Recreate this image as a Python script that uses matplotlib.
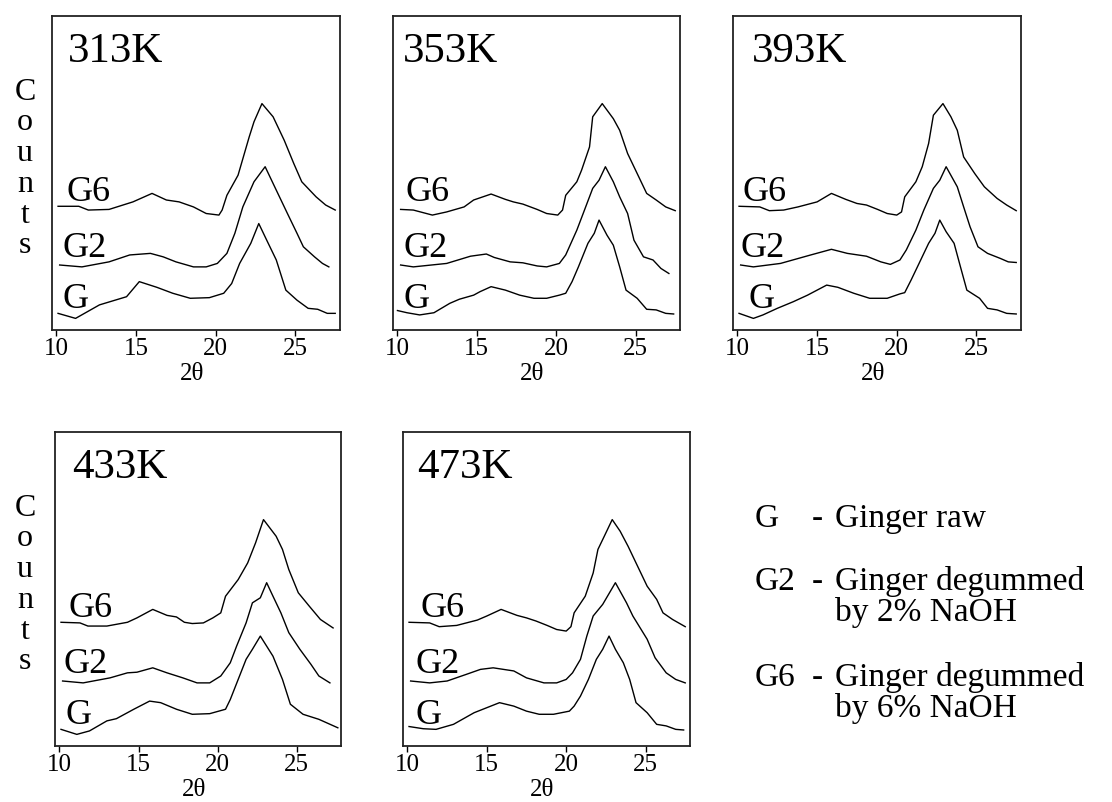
import matplotlib
matplotlib.use("Agg")
import matplotlib.pyplot as plt

# === FONTS ===
plt.rcParams['font.family'] = ['Liberation Serif', 'DejaVu Serif']

# === DATA (2theta, counts in arbitrary stacked units) ===
temps = ["313K", "353K", "393K", "433K", "473K"]
samples = ["G", "G2", "G6"]

# 313K
tth_313_g = [10.1, 11.2, 12.7, 14.4, 15.2, 16.3, 17.3, 18.4, 19.6, 20.5, 21.0, 21.5, 22.2, 22.7, 23.2, 23.8, 24.4, 25.1, 25.8, 26.4, 27.0, 27.5]
cnt_313_g = [5.3, 3.7, 8.0, 10.6, 15.4, 13.6, 11.7, 10.1, 10.3, 11.7, 14.8, 21.2, 27.6, 33.9, 28.6, 22.3, 12.7, 9.5, 6.9, 6.6, 5.3, 5.3]
tth_313_g2 = [10.2, 11.6, 13.3, 14.6, 15.9, 16.7, 17.5, 18.6, 19.4, 20.1, 20.7, 21.2, 21.7, 22.4, 23.1, 23.7, 24.5, 25.1, 25.5, 26.2, 26.7, 27.1]
cnt_313_g2 = [20.7, 20.1, 21.7, 23.9, 24.4, 23.3, 21.7, 20.1, 20.1, 21.2, 24.4, 30.8, 39.2, 47.2, 52.0, 45.6, 37.1, 30.8, 26.5, 23.3, 21.2, 20.1]
tth_313_g6 = [10.1, 11.4, 12.0, 13.3, 14.8, 16.0, 16.9, 17.7, 18.6, 19.4, 20.2, 20.4, 20.7, 21.4, 22.1, 22.4, 22.9, 23.6, 24.3, 24.9, 25.4, 26.3, 26.9, 27.5]
cnt_313_g6 = [39.4, 39.4, 38.2, 38.4, 40.8, 43.5, 41.4, 40.8, 39.2, 37.1, 36.6, 38.2, 42.9, 49.3, 61.5, 66.3, 72.1, 67.9, 60.4, 53.0, 47.2, 42.4, 39.8, 38.2]

# 353K
tth_353_g = [10.0, 10.6, 11.4, 12.3, 13.3, 13.9, 14.8, 15.2, 15.9, 16.8, 17.7, 18.6, 19.4, 20.2, 20.6, 21.0, 21.4, 22.0, 22.4, 22.7, 23.2, 23.6, 24.0, 24.4, 25.1, 25.7, 26.3, 26.9, 27.4]
cnt_353_g = [6.2, 5.5, 4.8, 5.5, 8.5, 9.8, 11.1, 12.2, 13.8, 12.7, 11.1, 10.1, 10.1, 11.1, 11.7, 15.4, 20.1, 27.6, 30.8, 35.0, 30.2, 27.0, 20.1, 12.7, 10.1, 6.6, 6.4, 5.3, 5.1]
tth_353_g2 = [10.2, 11.0, 13.1, 14.6, 15.6, 16.1, 17.1, 17.9, 18.8, 19.4, 20.2, 20.6, 21.3, 21.7, 22.3, 22.7, 23.1, 23.6, 24.0, 24.5, 24.9, 25.5, 26.1, 26.6, 27.1]
cnt_353_g2 = [20.7, 20.1, 21.2, 23.5, 24.2, 23.1, 21.7, 21.4, 20.4, 20.1, 21.2, 23.9, 31.8, 37.1, 45.1, 47.7, 52.0, 47.2, 42.4, 37.1, 28.6, 23.3, 22.3, 19.6, 18.0]
tth_353_g6 = [10.2, 11.0, 12.2, 13.1, 14.2, 14.8, 15.9, 16.8, 17.3, 17.9, 18.8, 19.4, 20.1, 20.4, 20.6, 21.3, 21.6, 22.1, 22.3, 22.9, 23.6, 24.0, 24.5, 25.2, 25.7, 26.3, 26.9, 27.5]
cnt_353_g6 = [38.4, 38.2, 36.6, 37.6, 39.2, 41.4, 43.3, 41.6, 40.8, 40.1, 38.4, 37.1, 36.6, 38.2, 42.9, 47.2, 50.9, 58.3, 67.9, 72.1, 67.3, 63.6, 56.2, 48.8, 43.5, 41.4, 39.2, 38.0]

# 393K
tth_393_g = [10.1, 11.0, 11.6, 12.5, 13.5, 14.4, 15.0, 15.6, 16.3, 17.3, 18.3, 19.4, 20.2, 20.5, 20.9, 21.4, 22.0, 22.4, 22.7, 23.1, 23.6, 24.0, 24.4, 25.2, 25.7, 26.3, 26.9, 27.5]
cnt_393_g = [5.3, 3.7, 4.8, 6.9, 9.0, 11.1, 12.7, 14.3, 13.6, 11.7, 10.1, 10.1, 11.5, 11.9, 15.9, 21.2, 27.6, 30.8, 35.0, 31.3, 27.6, 20.1, 12.7, 10.1, 6.9, 6.4, 5.3, 5.1]
tth_393_g2 = [10.2, 11.0, 12.7, 14.6, 15.9, 16.9, 18.1, 19.0, 19.6, 20.2, 20.6, 21.2, 21.7, 22.3, 22.7, 23.1, 23.8, 24.2, 24.6, 25.1, 25.7, 26.5, 27.0, 27.5]
cnt_393_g2 = [20.7, 20.1, 21.2, 23.9, 25.7, 24.4, 23.5, 21.7, 20.9, 22.3, 25.5, 31.8, 38.2, 45.1, 47.7, 52.0, 45.6, 39.2, 32.9, 26.5, 24.4, 22.8, 21.7, 21.5]
tth_393_g6 = [10.1, 11.4, 12.0, 12.9, 13.8, 15.0, 15.9, 16.8, 17.5, 18.1, 18.8, 19.4, 20.0, 20.3, 20.5, 21.2, 21.6, 22.0, 22.3, 22.9, 23.4, 23.8, 24.2, 24.9, 25.5, 26.3, 26.9, 27.5]
cnt_393_g6 = [39.4, 39.2, 38.0, 38.2, 39.2, 40.8, 43.5, 41.6, 40.3, 39.8, 38.4, 37.1, 36.6, 37.6, 42.4, 47.2, 52.0, 59.4, 68.4, 72.1, 67.9, 63.6, 55.1, 49.8, 45.6, 41.9, 39.8, 38.0]

# 433K
tth_433_g = [10.1, 11.1, 11.9, 13.0, 13.6, 14.7, 15.7, 16.4, 17.4, 18.4, 19.5, 20.5, 20.8, 21.3, 21.8, 22.2, 22.7, 23.5, 24.1, 24.6, 25.4, 26.4, 27.6]
cnt_433_g = [5.3, 3.7, 4.8, 8.0, 8.7, 11.7, 14.3, 13.8, 11.7, 10.1, 10.3, 11.7, 14.8, 21.2, 27.6, 30.8, 35.0, 28.6, 21.2, 13.3, 10.1, 8.5, 5.8]
tth_433_g2 = [10.2, 11.5, 13.2, 14.3, 14.9, 15.9, 16.8, 17.8, 18.7, 19.5, 20.2, 20.8, 21.2, 21.8, 22.2, 22.7, 23.1, 23.5, 24.0, 24.5, 25.2, 25.9, 26.4, 27.1]
cnt_433_g2 = [20.7, 20.1, 21.7, 23.3, 23.5, 24.9, 23.3, 21.7, 20.1, 20.1, 22.3, 26.5, 31.8, 39.2, 45.6, 47.2, 52.0, 47.7, 42.4, 36.1, 30.8, 26.0, 22.3, 20.1]
tth_433_g6 = [10.1, 11.3, 11.8, 13.0, 14.3, 14.9, 15.9, 16.8, 17.4, 17.9, 18.4, 19.1, 19.7, 20.2, 20.5, 21.3, 21.9, 22.4, 22.9, 23.7, 24.1, 24.5, 25.1, 25.8, 26.5, 27.3]
cnt_433_g6 = [39.4, 39.2, 38.2, 38.2, 39.4, 40.8, 43.5, 41.6, 41.1, 39.4, 39.0, 39.2, 40.8, 42.4, 47.7, 53.0, 58.3, 64.7, 72.1, 66.8, 62.6, 56.2, 48.8, 44.5, 40.3, 37.6]

# 473K
tth_473_g = [10.1, 11.0, 11.8, 12.9, 14.2, 15.0, 15.8, 16.7, 17.5, 18.3, 19.2, 20.2, 20.5, 20.9, 21.4, 21.9, 22.3, 22.7, 23.1, 23.6, 24.0, 24.4, 25.1, 25.7, 26.3, 26.9, 27.4]
cnt_473_g = [6.2, 5.5, 5.3, 6.9, 10.6, 12.2, 13.8, 12.7, 11.1, 10.1, 10.1, 11.1, 12.7, 15.9, 21.2, 27.6, 30.8, 35.0, 30.8, 26.5, 21.2, 13.8, 10.6, 6.9, 6.4, 5.3, 5.1]
tth_473_g2 = [10.2, 11.4, 12.5, 13.7, 14.6, 15.4, 16.7, 17.5, 18.6, 19.4, 20.0, 20.4, 20.9, 21.3, 21.7, 22.3, 23.1, 23.8, 24.2, 25.1, 25.6, 26.3, 26.9, 27.5]
cnt_473_g2 = [20.7, 20.1, 20.7, 22.8, 24.4, 24.9, 23.9, 21.7, 20.1, 20.1, 21.2, 23.3, 27.6, 35.0, 41.4, 45.1, 52.0, 45.6, 41.4, 34.0, 28.1, 23.3, 21.2, 20.1]
tth_473_g6 = [10.1, 11.4, 12.0, 13.1, 14.4, 15.0, 15.9, 16.9, 17.5, 18.1, 18.8, 19.4, 20.0, 20.3, 20.5, 21.2, 21.7, 22.0, 22.4, 22.9, 23.4, 23.9, 24.4, 25.1, 25.7, 26.1, 26.7, 27.5]
cnt_473_g6 = [39.4, 39.2, 38.0, 38.4, 40.1, 41.4, 43.5, 41.6, 40.8, 39.8, 38.4, 37.1, 36.6, 38.0, 42.4, 47.7, 55.1, 62.6, 66.8, 72.1, 68.4, 63.6, 58.3, 50.9, 46.7, 42.4, 40.3, 38.0]

curves = {
    "313K": [(tth_313_g, cnt_313_g), (tth_313_g2, cnt_313_g2), (tth_313_g6, cnt_313_g6)],
    "353K": [(tth_353_g, cnt_353_g), (tth_353_g2, cnt_353_g2), (tth_353_g6, cnt_353_g6)],
    "393K": [(tth_393_g, cnt_393_g), (tth_393_g2, cnt_393_g2), (tth_393_g6, cnt_393_g6)],
    "433K": [(tth_433_g, cnt_433_g), (tth_433_g2, cnt_433_g2), (tth_433_g6, cnt_433_g6)],
    "473K": [(tth_473_g, cnt_473_g), (tth_473_g2, cnt_473_g2), (tth_473_g6, cnt_473_g6)],
}

# label anchor (2theta) per panel for G, G2, G6, and shared counts level
label_x = {"313K": [10.4, 10.4, 10.6], "353K": [10.4, 10.4, 10.5], "393K": [10.7, 10.2, 10.3],
           "433K": [10.4, 10.25, 10.6], "473K": [10.5, 10.5, 10.8]}
label_y = [7.0, 23.3, 41.0]

xticks = [10, 15, 20, 25]

legend_keys = ["G", "G2", "G6"]
legend_lines = [["Ginger raw"], ["Ginger degummed", "by 2% NaOH"], ["Ginger degummed", "by 6% NaOH"]]

# === LAYOUT (pixels of a 1112x802 canvas) ===
W, H = 1112, 802
boxes = [(52, 16, 288, 314), (393, 16, 287, 314), (733, 16, 288, 314),
         (55, 432, 286, 314), (403, 432, 287, 314)]
title_x = [0.056, 0.035, 0.066, 0.059, 0.049]

fig = plt.figure(figsize=(W / 100, H / 100), dpi=100)

for i, t in enumerate(temps):
    l, top, w, h = boxes[i]
    ax = fig.add_axes([l / W, 1 - (top + h) / H, w / W, h / H])
    for (xs, ys) in curves[t]:
        ax.plot(xs, ys, color='black', lw=1.0)
    for j, s in enumerate(samples):
        ax.text(label_x[t][j], label_y[j], s, fontsize=26, va='baseline', ha='left')
    ax.text(title_x[i], 0.852, t, transform=ax.transAxes, fontsize=31, va='baseline', ha='left')
    ax.set_xlim(9.72, 27.8)
    ax.set_ylim(0, 100)
    ax.set_yticks([])
    ax.set_xticks(xticks)
    ax.tick_params(axis='x', direction='out', length=4, width=1, labelsize=18, pad=2)
    for sp in ax.spines.values():
        sp.set_linewidth(1.3)
        sp.set_color('#222222')
    ax.text(0.485, -0.175, "2θ", transform=ax.transAxes, fontsize=18, ha='center', va='bottom')

# stacked "Counts" y labels
for cy in [169, 585]:
    fig.text(25 / W, 1 - cy / H, "\n".join("Counts"), fontsize=23, ha='center', va='center',
             multialignment='center', linespacing=1.08)

# key text on the right
base_y = [527, 590, 686]
for k, key in enumerate(legend_keys):
    y0 = base_y[k]
    fig.text(755 / W, 1 - y0 / H, key, fontsize=24, va='baseline', ha='left')
    fig.text(812 / W, 1 - y0 / H, "-", fontsize=24, va='baseline', ha='left')
    for m, line in enumerate(legend_lines[k]):
        fig.text(835 / W, 1 - (y0 + 31 * m) / H, line, fontsize=24, va='baseline', ha='left')

plt.savefig("out.png", dpi=100)
